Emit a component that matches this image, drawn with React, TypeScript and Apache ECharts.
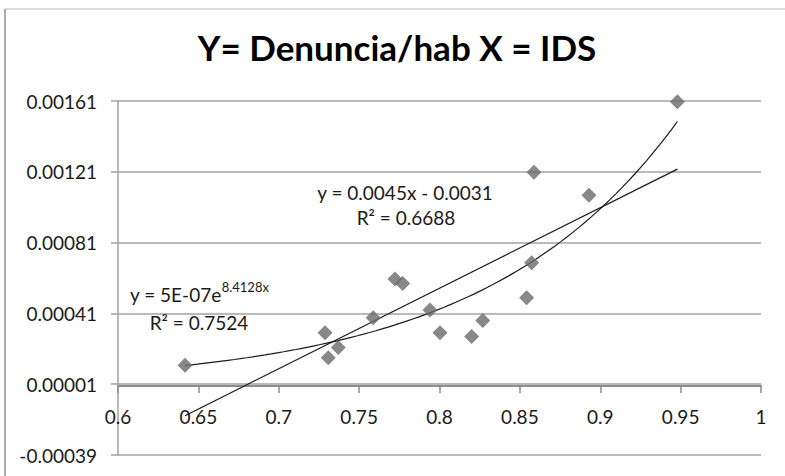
import React, { useEffect, useRef } from "react";
import * as echarts from "echarts";

// IDS (x) and Denuncia/hab (y)
const idsX = [0.6417, 0.7288, 0.7308, 0.737, 0.7588, 0.7723, 0.7771, 0.7941, 0.8003, 0.82, 0.8269, 0.8542, 0.8573, 0.8588, 0.893, 0.948];
const denunciaY = [0.000117, 0.000301, 0.00016, 0.000217, 0.000386, 0.000605, 0.000579, 0.000429, 0.000301, 0.000279, 0.00037, 0.000498, 0.000696, 0.001208, 0.001077, 0.001606];

const titleText = "Y= Denuncia/hab X = IDS";
const linearLabel = ["y = 0.0045x - 0.0031", "R² = 0.6688"];
const expLabelBase = "y = 5E-07e";
const expLabelExp = "8.4128x";
const expLabelR2 = "R² = 0.7524";

const yMin = -0.00039;
const yMax = 0.00161;
const yStep = 0.0004;
const xMin = 0.6;
const xMax = 1;
const xStep = 0.05;

const GRID = { left: 118, right: 24, top: 101, bottom: 21 };
const H = 476;

function linFit(xs: number[], ys: number[]) {
  const n = xs.length;
  const mx = xs.reduce((a, b) => a + b, 0) / n;
  const my = ys.reduce((a, b) => a + b, 0) / n;
  let sxy = 0, sxx = 0;
  for (let i = 0; i < n; i++) {
    sxy += (xs[i] - mx) * (ys[i] - my);
    sxx += (xs[i] - mx) * (xs[i] - mx);
  }
  const b = sxy / sxx;
  return { b, a: my - b * mx };
}

const FONT = "Lato, 'Open Sans', sans-serif";

export default function App() {
  const ref = useRef<HTMLDivElement>(null);
  useEffect(() => {
    if (!ref.current) return;
    const chart = echarts.init(ref.current, null, { renderer: "svg" });
    const lo = Math.min(...idsX);
    const hi = Math.max(...idsX);
    const lin = linFit(idsX, denunciaY);
    const ex = linFit(idsX, denunciaY.map((v) => Math.log(v)));
    const linLine = [lo, hi].map((x) => [x, lin.a + lin.b * x]);
    const expLine: number[][] = [];
    const N = 80;
    for (let i = 0; i <= N; i++) {
      const x = lo + ((hi - lo) * i) / N;
      expLine.push([x, Math.exp(ex.a + ex.b * x)]);
    }
    // x axis crosses the y axis at 0: shift it up from the grid bottom
    const gridH = H - GRID.top - GRID.bottom;
    const zeroOffset = -((0 - yMin) / (yMax - yMin)) * gridH;
    const textStyle = { fill: "#1a1a1a", font: `19px ${FONT}` };
    chart.setOption({
      animation: false,
      backgroundColor: "#ffffff",
      title: {
        text: titleText,
        left: 397,
        textAlign: "center",
        top: 29,
        padding: 0,
        textStyle: { fontFamily: FONT, fontWeight: "bold", fontSize: 35, color: "#000" },
      },
      grid: { ...GRID, containLabel: false, outerBoundsMode: "none" },
      xAxis: {
        type: "value",
        min: xMin,
        max: xMax,
        interval: xStep,
        position: "bottom",
        offset: zeroOffset,
        axisLine: { onZero: false, lineStyle: { color: "#8c8c8c", width: 2 } },
        axisTick: { show: true, inside: false, length: 7, lineStyle: { color: "#8c8c8c", width: 1.5 } },
        axisLabel: { margin: 21, fontFamily: FONT, fontSize: 19, color: "#1a1a1a", showMinLabel: true, showMaxLabel: true },
        splitLine: { show: false },
      },
      yAxis: {
        type: "value",
        min: yMin,
        max: yMax,
        interval: yStep,
        axisLine: { show: true, lineStyle: { color: "#a0a0a0", width: 1.5 } },
        axisTick: { show: true, inside: false, length: 7, lineStyle: { color: "#a0a0a0", width: 1.5 } },
        axisLabel: {
          margin: 21,
          fontFamily: FONT,
          fontSize: 19,
          color: "#1a1a1a",
          formatter: (v: number) => v.toFixed(5),
        },
        splitLine: { show: true, lineStyle: { color: "#a3a3a3", width: 1.5 } },
      },
      series: [
        {
          type: "line",
          data: expLine,
          showSymbol: false,
          smooth: false,
          lineStyle: { color: "#1a1a1a", width: 1.2 },
          z: 3,
        },
        {
          type: "line",
          data: linLine,
          showSymbol: false,
          lineStyle: { color: "#1a1a1a", width: 1.2 },
          z: 3,
        },
        {
          type: "scatter",
          data: idsX.map((x, i) => [x, denunciaY[i]]),
          symbol: "diamond",
          symbolSize: [15, 15],
          itemStyle: { color: "#6a6a6a" },
          z: 4,
        },
      ],
      graphic: [
        { type: "line", shape: { x1: 5, y1: 9, x2: 785, y2: 9 }, style: { stroke: "#dcdcdc", lineWidth: 2 }, silent: true },
        { type: "line", shape: { x1: 5, y1: 9, x2: 5, y2: 476 }, style: { stroke: "#ababab", lineWidth: 2 }, silent: true },
        {
          type: "text", x: 405, y: 192, z: 10,
          style: { ...textStyle, text: linearLabel[0], textAlign: "center", textVerticalAlign: "middle" },
        },
        {
          type: "text", x: 406, y: 217, z: 10,
          style: { ...textStyle, text: linearLabel[1], textAlign: "center", textVerticalAlign: "middle" },
        },
        {
          type: "text", x: 130, y: 292, z: 10,
          style: {
            text: `{a|${expLabelBase}}{s|${expLabelExp}}`,
            textAlign: "left",
            textVerticalAlign: "middle",
            rich: {
              a: { fontFamily: FONT, fontSize: 19, fill: "#1a1a1a", lineHeight: 24, verticalAlign: "bottom" },
              s: { fontFamily: FONT, fontSize: 13, fill: "#1a1a1a", lineHeight: 24, verticalAlign: "top" },
            },
          },
        },
        {
          type: "text", x: 199, y: 322, z: 10,
          style: { ...textStyle, text: expLabelR2, textAlign: "center", textVerticalAlign: "middle" },
        },
      ],
    });
    return () => chart.dispose();
  }, []);
  return (
    <div
      ref={ref}
      style={{ position: "fixed", left: 0, top: 0, width: 785, height: 476, background: "#fff" }}
    />
  );
}
